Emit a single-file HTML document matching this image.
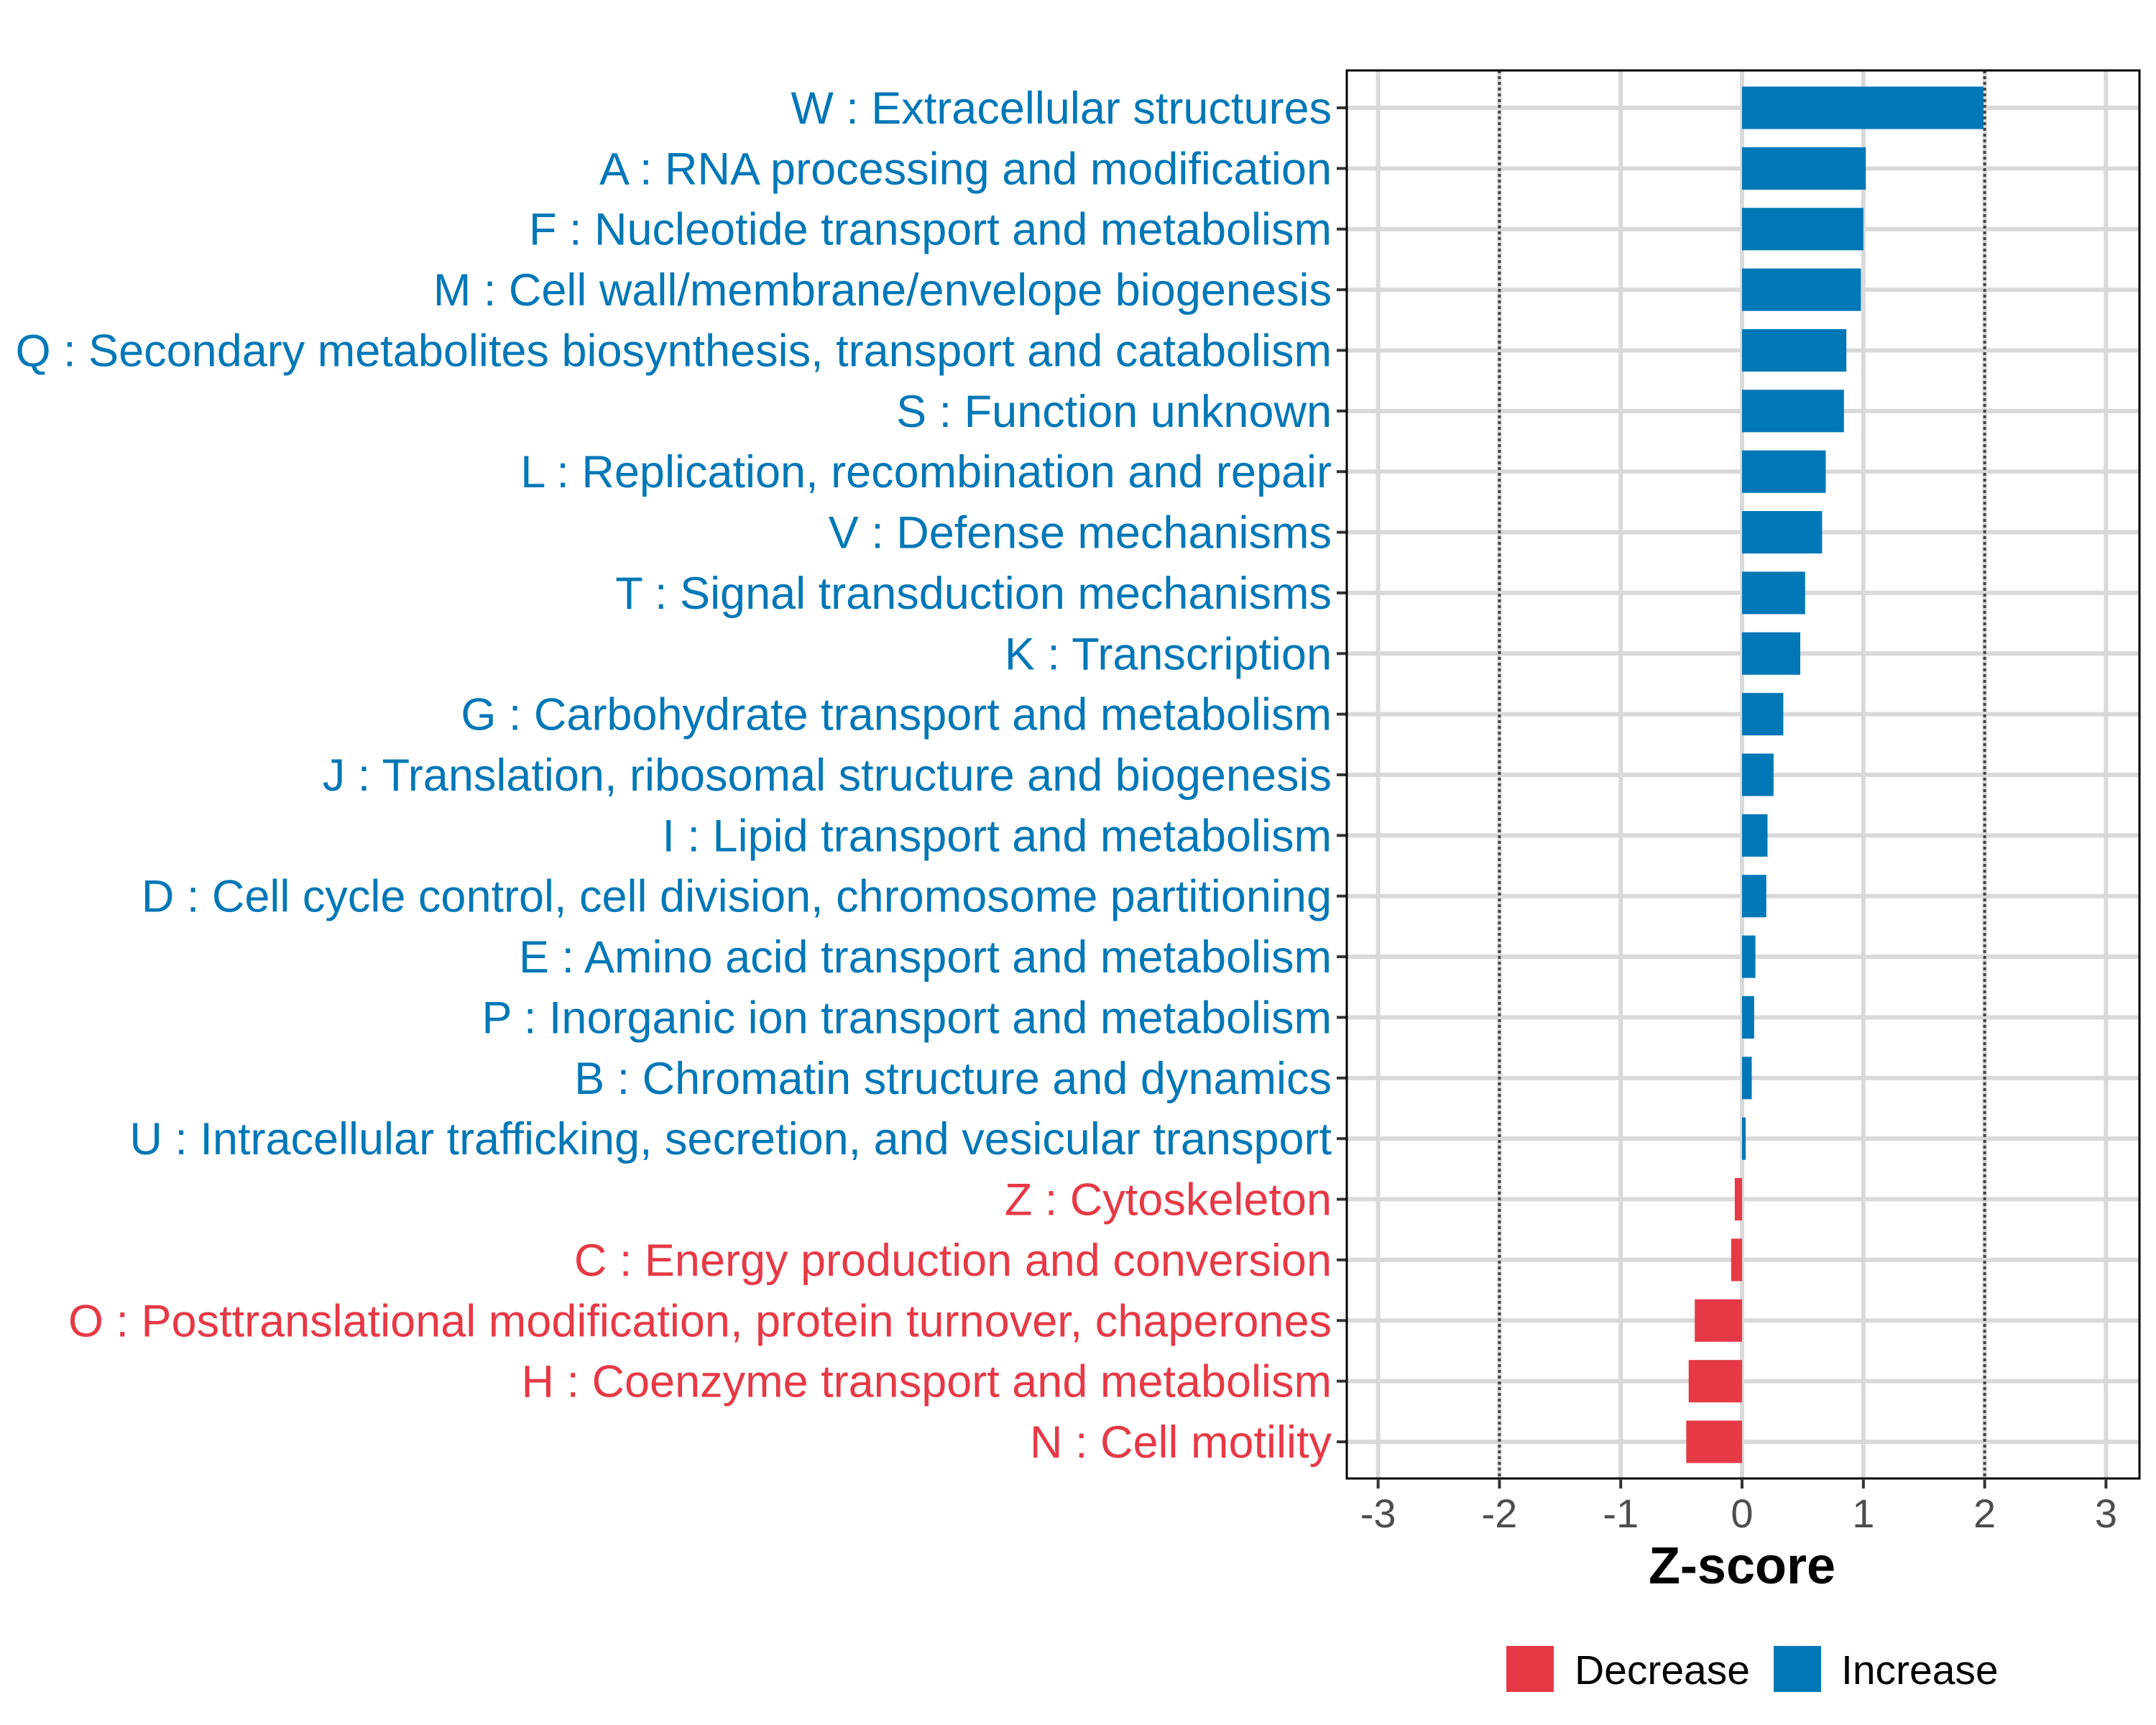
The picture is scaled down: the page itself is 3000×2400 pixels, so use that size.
<!DOCTYPE html>
<html><head><meta charset="utf-8"><style>
html,body{margin:0;padding:0;background:#fff;}
svg{display:block;font-family:"Liberation Sans",Arial,sans-serif;}
</style></head><body>
<svg id="chart" width="3000" height="2400" viewBox="0 0 3000 2400" xmlns="http://www.w3.org/2000/svg">
<rect x="0" y="0" width="3000" height="2400" fill="#fff"/>
<g id="grid"></g>
<g id="bars"></g>
<g id="axes"></g>
<text x="2424" y="2203" text-anchor="middle" font-size="72" font-weight="bold" fill="#000">Z-score</text>
<g>
<rect x="2096" y="2290" width="66" height="64" fill="#E63946"/>
<text x="2191" y="2343" font-size="57" fill="#000">Decrease</text>
<rect x="2468" y="2290" width="66" height="64" fill="#0077B6"/>
<text x="2562" y="2343" font-size="57" fill="#000">Increase</text>
</g>
</svg>
<script>
const categories = ["W : Extracellular structures","A : RNA processing and modification","F : Nucleotide transport and metabolism","M : Cell wall/membrane/envelope biogenesis","Q : Secondary metabolites biosynthesis, transport and catabolism","S : Function unknown","L : Replication, recombination and repair","V : Defense mechanisms","T : Signal transduction mechanisms","K : Transcription","G : Carbohydrate transport and metabolism","J : Translation, ribosomal structure and biogenesis","I : Lipid transport and metabolism","D : Cell cycle control, cell division, chromosome partitioning","E : Amino acid transport and metabolism","P : Inorganic ion transport and metabolism","B : Chromatin structure and dynamics","U : Intracellular trafficking, secretion, and vesicular transport","Z : Cytoskeleton","C : Energy production and conversion","O : Posttranslational modification, protein turnover, chaperones","H : Coenzyme transport and metabolism","N : Cell motility"];
const zscores = [1.99,1.02,1.0,0.98,0.86,0.84,0.69,0.66,0.52,0.48,0.34,0.26,0.21,0.2,0.11,0.1,0.08,0.03,-0.06,-0.09,-0.39,-0.44,-0.46];
const xTicks = [-3,-2,-1,0,1,2,3];
const thresholds = [-2,2];

const NS="http://www.w3.org/2000/svg";
const P={l:1874,r:2977,t:98,b:2057};
const X0=2424, UNIT=168.8;
function xs(v){return X0+v*UNIT;}
const rowStep=(2006-150)/(categories.length-1);
function ys(i){return 150+i*rowStep;}
function mk(tag,attrs,parent){const e=document.createElementNS(NS,tag);for(const k in attrs)e.setAttribute(k,attrs[k]);parent.appendChild(e);return e;}
const grid=document.getElementById('grid'),bars=document.getElementById('bars'),axes=document.getElementById('axes');

xTicks.forEach(t=>{
  const l=mk('line',{x1:xs(t),x2:xs(t),y1:P.t,y2:P.b,stroke:'#d9d9d9','stroke-width':6},grid);
  
  
});
categories.forEach((c,i)=>{
  const l=mk('line',{x1:P.l,x2:P.r,y1:ys(i),y2:ys(i),stroke:'#d9d9d9','stroke-width':6},grid);
  
  
});
thresholds.forEach(t=>{
  const l=mk('line',{x1:xs(t),x2:xs(t),y1:P.t,y2:P.b,stroke:'#444','stroke-width':4,'stroke-dasharray':'4 4'},grid);
  
  
});
const bh=rowStep*0.7;
zscores.forEach((v,i)=>{
  const x=Math.min(xs(0),xs(v)), w=Math.abs(xs(v)-xs(0));
  const r=mk('rect',{x:x,y:ys(i)-bh/2,width:Math.max(w,1),height:bh,fill:v>=0?'#0077B6':'#E63946'},bars);
  
  
  const t=mk('text',{x:1853,y:ys(i)+22,'text-anchor':'end','font-size':63,fill:v>=0?'#0077B6':'#E63946'},axes);
  t.textContent=categories[i];
  
  
  const tk=mk('line',{x1:P.l-14,x2:P.l,y1:ys(i),y2:ys(i),stroke:'#333','stroke-width':4},axes);
  
  
});
const frame=mk('rect',{x:P.l,y:P.t,width:P.r-P.l,height:P.b-P.t,fill:'none',stroke:'#000','stroke-width':3},axes);


xTicks.forEach(t=>{
  const tk=mk('line',{x1:xs(t),x2:xs(t),y1:P.b,y2:P.b+14,stroke:'#333','stroke-width':4},axes);
  
  
  const lb=mk('text',{x:xs(t),y:2125,'text-anchor':'middle','font-size':56,fill:'#4d4d4d'},axes);
  lb.textContent=String(t);
  
  
});
</script>
</body></html>
